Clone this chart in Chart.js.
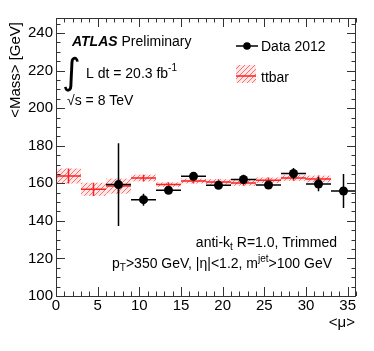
<!DOCTYPE html>
<html>
<head>
<meta charset="utf-8">
<script src="https://cdn.jsdelivr.net/npm/chart.js@4"></script>
<style>
  html, body { margin: 0; padding: 0; background: #fff; }
  canvas { display: block; }
</style>
</head>
<body>
<canvas id="massChart" width="374" height="351"></canvas>
<script>
// ttbar MC: bin centres, mean mass, uncertainty
const mcMu = [1.5, 4.5, 7.5, 10.5, 13.5, 16.5, 19.5, 22.5, 25.5, 28.5, 31.5];
const mcMass = [163.9, 156.8, 158.5, 162.8, 159.3, 161.2, 160.7, 160.2, 161.6, 162.8, 162.3];
const mcErr = [4.0, 3.5, 4.0, 1.8, 1.2, 1.3, 1.5, 1.5, 1.5, 1.5, 1.8];

// Data 2012
const dataMu = [7.5, 10.5, 13.5, 16.5, 19.5, 22.5, 25.5, 28.5, 31.5, 34.5];
const dataMass = [159.3, 151.3, 156.3, 163.7, 158.9, 162.0, 159.1, 165.2, 159.6, 155.9];
const dataErr = [22.0, 3.2, 1.5, 1.5, 1.5, 2.5, 2.0, 3.0, 3.8, 9.0];

const binHalf = 1.5;
const xTicks = [0, 5, 10, 15, 20, 25, 30, 35];
const yTicks = [100, 120, 140, 160, 180, 200, 220, 240];

const FONT = '"Liberation Sans", Arial, sans-serif';

function makeHatch(ctx) {
    const c = document.createElement('canvas');
    c.width = 5; c.height = 5;
    const g = c.getContext('2d');
    g.fillStyle = 'rgba(255,190,190,0.35)';
    g.fillRect(0, 0, 5, 5);
    g.strokeStyle = 'rgba(255,70,70,0.75)';
    g.lineWidth = 1;
    g.beginPath();
    g.moveTo(0, 5); g.lineTo(5, 0);
    g.moveTo(-1, 1); g.lineTo(1, -1);
    g.moveTo(4, 6); g.lineTo(6, 4);
    g.stroke();
    return ctx.createPattern(c, 'repeat');
}

// draw a run of text pieces {t, size, dy} ending (align right) or starting at x
function richText(ctx, parts, x, y, align) {
    let total = 0;
    parts.forEach(p => { ctx.font = (p.style || '') + ' ' + p.size + 'px ' + FONT; total += ctx.measureText(p.t).width; });
    let cx = align === 'right' ? x - total : x;
    ctx.textAlign = 'left';
    ctx.textBaseline = 'alphabetic';
    parts.forEach(p => {
        ctx.font = (p.style || '') + ' ' + p.size + 'px ' + FONT;
        ctx.fillText(p.t, cx, y + (p.dy || 0));
        cx += ctx.measureText(p.t).width;
    });
}

const histPlugin = {
    id: 'histPlugin',
    beforeDatasetsDraw(chart) {
        const { ctx, scales: { x, y } } = chart;
        const hatch = makeHatch(ctx);
        ctx.save();
        // MC hatched bands + central line
        mcMu.forEach((m, i) => {
            const x0 = x.getPixelForValue(m - binHalf), x1 = x.getPixelForValue(m + binHalf);
            const yt = y.getPixelForValue(mcMass[i] + mcErr[i]), yb = y.getPixelForValue(mcMass[i] - mcErr[i]);
            ctx.fillStyle = hatch;
            ctx.fillRect(x0, yt, x1 - x0, yb - yt);
        });
        ctx.strokeStyle = '#ff2020';
        ctx.lineWidth = 1.5;
        mcMu.forEach((m, i) => {
            const x0 = x.getPixelForValue(m - binHalf), x1 = x.getPixelForValue(m + binHalf);
            const xc = x.getPixelForValue(m), yc = y.getPixelForValue(mcMass[i]);
            ctx.beginPath();
            ctx.moveTo(x0, yc); ctx.lineTo(x1, yc);
            ctx.moveTo(xc, y.getPixelForValue(mcMass[i] + mcErr[i]));
            ctx.lineTo(xc, y.getPixelForValue(mcMass[i] - mcErr[i]));
            ctx.stroke();
        });
        // data error bars
        ctx.strokeStyle = '#000';
        ctx.lineWidth = 1.5;
        dataMu.forEach((m, i) => {
            const x0 = x.getPixelForValue(m - binHalf), x1 = x.getPixelForValue(m + binHalf);
            const xc = x.getPixelForValue(m), yc = y.getPixelForValue(dataMass[i]);
            ctx.beginPath();
            ctx.moveTo(x0, yc); ctx.lineTo(x1, yc);
            ctx.moveTo(xc, y.getPixelForValue(dataMass[i] + dataErr[i]));
            ctx.lineTo(xc, y.getPixelForValue(dataMass[i] - dataErr[i]));
            ctx.stroke();
        });
        ctx.restore();
    },
    afterDraw(chart) {
        const { ctx, chartArea: a, scales: { x, y } } = chart;
        ctx.save();
        // frame + inward ticks on all sides
        ctx.strokeStyle = '#333';
        ctx.lineWidth = 1;
        ctx.strokeRect(a.left + 0.5, a.top + 0.5, a.right - a.left - 1, a.bottom - a.top);
        ctx.beginPath();
        for (let v = 0; v <= 36; v++) {
            const px = Math.round(x.getPixelForValue(v)) + 0.5;
            const len = v % 5 === 0 ? 9 : 4.5;
            ctx.moveTo(px, a.bottom); ctx.lineTo(px, a.bottom - len);
            ctx.moveTo(px, a.top); ctx.lineTo(px, a.top + len);
        }
        for (let v = 100; v <= 248; v += 5) {
            const py = Math.round(y.getPixelForValue(v)) + 0.5;
            const len = v % 20 === 0 ? 9 : 4.5;
            ctx.moveTo(a.left, py); ctx.lineTo(a.left + len, py);
            ctx.moveTo(a.right, py); ctx.lineTo(a.right - len, py);
        }
        ctx.stroke();

        ctx.fillStyle = '#000';
        // axis titles
        ctx.font = '15px ' + FONT;
        ctx.textAlign = 'right';
        ctx.textBaseline = 'middle';
        ctx.fillText('<\u03bc>', 355, 323);
        ctx.save();
        ctx.translate(16, 22);
        ctx.rotate(-Math.PI / 2);
        ctx.fillText('<Mass> [GeV]', 0, 0);
        ctx.restore();

        // ATLAS label
        richText(ctx, [{ t: 'ATLAS', size: 14, style: 'italic bold' }, { t: ' Preliminary', size: 14 }], 72, 46, 'left');
        ctx.font = '36px "DejaVu Sans"';
        ctx.textAlign = 'left';
        ctx.textBaseline = 'alphabetic';
        ctx.fillText('\u222b', 62, 84);
        richText(ctx, [{ t: 'L dt = 20.3 fb', size: 14 }, { t: '-1', size: 10, dy: -7 }], 86, 78, 'left');
        richText(ctx, [{ t: '\u221as = 8 TeV', size: 14 }], 67, 105, 'left');

        // legend
        ctx.strokeStyle = '#000';
        ctx.lineWidth = 1.5;
        ctx.beginPath(); ctx.moveTo(236, 46); ctx.lineTo(258, 46); ctx.stroke();
        ctx.beginPath(); ctx.arc(247, 46, 3.8, 0, Math.PI * 2); ctx.fill();
        richText(ctx, [{ t: 'Data 2012', size: 14 }], 261, 51, 'left');
        ctx.fillStyle = makeHatch(ctx);
        ctx.fillRect(236, 65, 20, 18);
        ctx.strokeStyle = '#ff2020';
        ctx.beginPath(); ctx.moveTo(236, 76); ctx.lineTo(256, 76); ctx.stroke();
        ctx.fillStyle = '#000';
        richText(ctx, [{ t: 'ttbar', size: 14 }], 261, 82, 'left');

        // selection text
        richText(ctx, [{ t: 'anti-k', size: 14 }, { t: 't', size: 10, dy: 3 }, { t: ' R=1.0, Trimmed', size: 14 }], 337, 247, 'right');
        richText(ctx, [{ t: 'p', size: 14 }, { t: 'T', size: 10, dy: 3 }, { t: '>350 GeV, |\u03b7|<1.2, m', size: 14 },
                       { t: 'jet', size: 10, dy: -6 }, { t: '>100 GeV', size: 14 }], 332, 268, 'right');
        ctx.restore();
    }
};

new Chart(document.getElementById('massChart'), {
    type: 'scatter',
    data: {
        datasets: [{
            label: 'Data 2012',
            data: dataMu.map((m, i) => ({ x: m, y: dataMass[i] })),
            pointRadius: 4.5,
            pointBackgroundColor: '#000',
            pointBorderColor: '#000',
            borderWidth: 0
        }]
    },
    options: {
        responsive: false,
        animation: false,
        layout: { padding: { top: 18, right: 18, left: 0, bottom: 0 } },
        plugins: { legend: { display: false }, tooltip: { enabled: false } },
        scales: {
            x: {
                type: 'linear', min: 0, max: 36,
                grid: { display: false, drawTicks: false },
                border: { display: false },
                afterBuildTicks: s => { s.ticks = xTicks.map(v => ({ value: v })); },
                afterFit: s => { s.height = 55; },
                ticks: { color: '#000', padding: 1, maxRotation: 0, font: { family: FONT, size: 15 } }
            },
            y: {
                min: 100, max: 248,
                grid: { display: false, drawTicks: false },
                border: { display: false },
                afterBuildTicks: s => { s.ticks = yTicks.map(v => ({ value: v })); },
                afterFit: s => { s.width = 56; },
                ticks: { color: '#000', padding: 3, font: { family: FONT, size: 15 } }
            }
        }
    },
    plugins: [histPlugin]
});
</script>
</body>
</html>
